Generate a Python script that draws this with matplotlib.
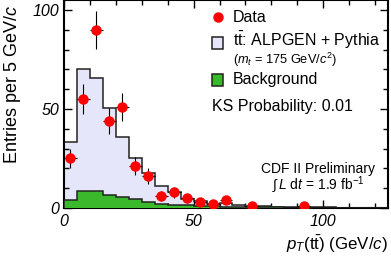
import matplotlib
matplotlib.use("Agg")
import matplotlib.pyplot as plt
from matplotlib.patches import Rectangle
from matplotlib.ticker import MultipleLocator
import numpy as np

plt.rcParams['font.family'] = ['Liberation Sans', 'DejaVu Sans']
plt.rcParams['mathtext.fontset'] = 'custom'
plt.rcParams['mathtext.rm'] = 'Liberation Sans'
plt.rcParams['mathtext.it'] = 'Liberation Sans:italic'

# 5 GeV bins from 0 to 125
bin_edges = np.arange(0, 130, 5)
# ttbar + background (stacked total), per bin
total_mc = [33.5, 70, 65.5, 50.5, 36, 25, 17.5, 11, 8, 4.5, 3.5, 2, 2.5, 1.5, 1,
            0.8, 0.6, 0.5, 0.4, 0.3, 0.3, 0.2, 0.2, 0.1, 0.1]
background = [4, 8.6, 8.6, 6.6, 5.4, 4.4, 3.2, 2.0, 1.5, 1.3, 1.0, 0.8, 0.7, 0.5, 0.4,
              0.3, 0.3, 0.2, 0.2, 0.1, 0.1, 0.1, 0.1, 0.05, 0.05]
# data points (bin centres, counts)
data_x = [2.5, 7.5, 12.5, 17.5, 22.5, 27.5, 32.5, 37.5, 42.5, 47.5, 52.5, 57.5, 62.5, 72.5, 92.5]
data_y = [25, 55, 90, 44, 51, 21, 16, 6, 8, 5, 3, 2, 4, 1, 1]

sig_color = '#e6e6fa'
bkg_color = '#3cb82c'

fig = plt.figure(figsize=(3.91, 2.57), dpi=100)
ax = fig.add_axes([64/391, 49/257, 324/391, 208/257])

ax.stairs(total_mc, bin_edges, fill=True, color=sig_color, zorder=1)
ax.stairs(total_mc, bin_edges, color='#222222', lw=1.1, zorder=2)
ax.stairs(background, bin_edges, fill=True, color=bkg_color, zorder=3)
ax.stairs(background, bin_edges, color='#222222', lw=1.1, zorder=4)

ax.errorbar(data_x, data_y, yerr=np.sqrt(data_y), xerr=2.5, fmt='o', color='red',
            ecolor='black', elinewidth=0.8, markersize=6.5, capsize=0, zorder=5)

ax.set_xlim(0, 125)
ax.set_ylim(0, 105)
ax.xaxis.set_major_locator(MultipleLocator(50))
ax.xaxis.set_minor_locator(MultipleLocator(10))
ax.yaxis.set_major_locator(MultipleLocator(50))
ax.yaxis.set_minor_locator(MultipleLocator(10))
ax.tick_params(which='both', direction='in', top=True, right=True, width=1)
ax.tick_params(which='major', length=6, labelsize=11.5)
ax.tick_params(which='minor', length=3.5)
ax.tick_params(axis='x', pad=4)
for lab in ax.get_xticklabels() + ax.get_yticklabels():
    lab.set_style('italic')
for sp in ax.spines.values():
    sp.set_linewidth(1.5)

ax.set_ylabel('Entries per 5 GeV/$c$', fontsize=13, loc='top')
ax.yaxis.set_label_coords(-0.128, 0.975)
ax.set_xlabel(r'$p_T$(t$\bar{\mathrm{t}}$) (GeV/$c$)', fontsize=12.2, loc='right', labelpad=4)

# legend drawn by hand
tr = ax.transAxes
ax.plot([0.475], [0.918], 'o', color='red', markersize=6.5, transform=tr)
ax.text(0.522, 0.918, 'Data', fontsize=11.5, va='center', transform=tr)
ax.add_patch(Rectangle((0.456, 0.766), 0.035, 0.054, transform=tr,
                       facecolor=sig_color, edgecolor='#222222', lw=1.1))
ax.text(0.522, 0.806, r't$\bar{\mathrm{t}}$: ALPGEN + Pythia', fontsize=11.5, va='center', transform=tr)
ax.text(0.522, 0.712, r'($m_t$ = 175 GeV/$c^2$)', fontsize=9.2, va='center', transform=tr)
ax.add_patch(Rectangle((0.456, 0.588), 0.035, 0.054, transform=tr,
                       facecolor=bkg_color, edgecolor='#222222', lw=1.1))
ax.text(0.522, 0.620, 'Background', fontsize=11.5, va='center', transform=tr)
ax.text(0.457, 0.490, 'KS Probability: 0.01', fontsize=11.5, va='center', transform=tr)

ax.text(0.784, 0.140, 'CDF II Preliminary\n' + r'$\int\, L\ \mathrm{d}t$ = 1.9 fb$^{-1}$',
        fontsize=10, ha='center', va='center', linespacing=0.95, transform=tr)

fig.savefig('out.png', dpi=100)
